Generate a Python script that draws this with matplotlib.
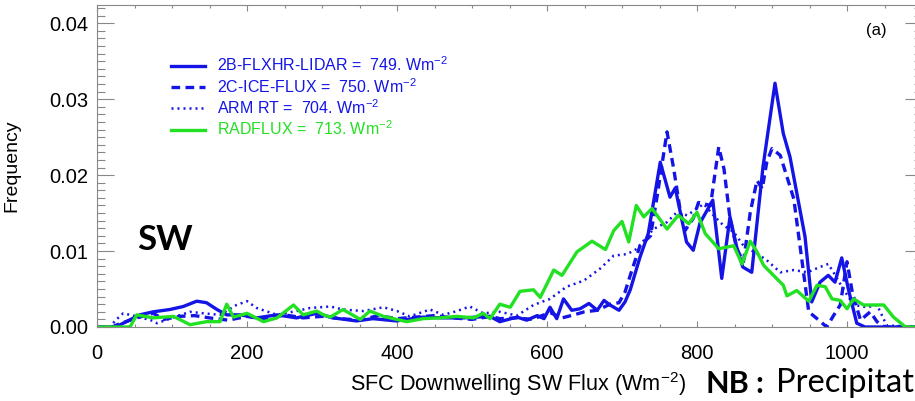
import numpy as np
import matplotlib.pyplot as plt
from matplotlib.ticker import MultipleLocator

plt.rcParams['font.family'] = ['Liberation Sans', 'DejaVu Sans']
plt.rcParams['mathtext.fontset'] = 'custom'
plt.rcParams['mathtext.rm'] = 'Liberation Sans'

# SW flux histograms (x = SFC downwelling SW flux, y = frequency)
lidar_x = [0, 25, 35, 57, 75, 97, 115, 133, 146, 160, 173, 191, 213, 240, 266, 293, 315, 346, 368, 399,
           435, 462, 488, 524, 537, 560, 573, 587, 596, 604, 613, 622, 633, 644, 656, 667, 676, 684, 696, 704,
           711, 724, 735, 751, 764, 771, 786, 795, 804, 821, 833, 844, 853, 861, 873, 888, 904, 915, 924, 944,
           953, 964, 975, 984, 993, 1002, 1013, 1024, 1100]
lidar_y = [0, 0, .0005, .0016, .0020, .0023, .0027, .0034, .0032, .0023, .0016, .0016, .0012, .0016, .0012,
           .0018, .0012, .0008, .0011, .0008, .0013, .0012, .0012, .0014, .0007, .0013, .0009, .0015, .0011,
           .0026, .0011, .0037, .0022, .0024, .0031, .0022, .0035, .0029, .0022, .0033, .0049, .0092, .0123,
           .0217, .0171, .0183, .0112, .0101, .0137, .0167, .0064, .0145, .0105, .0079, .0072, .0211, .0321,
           .0255, .0224, .0119, .0033, .0059, .0068, .0059, .0091, .0049, .0005, 0, 0]

ice_x = [0, 20, 27, 53, 75, 89, 110, 130, 150, 175, 200, 225, 250, 275, 300, 325, 350, 375, 400, 425,
         450, 475, 500, 525, 537, 560, 580, 604, 620, 636, 650, 667, 684, 696, 704, 711, 724, 738, 747, 760,
         769, 778, 784, 795, 802, 818, 829, 836, 844, 853, 862, 871, 880, 887, 893, 900, 911, 929, 949, 960,
         973, 982, 991, 1000, 1007, 1018, 1031, 1040, 1050, 1100]
ice_y = [0, 0, .0003, .0012, .0018, .0010, .0014, .0015, .0012, .0009, .0014, .0010, .0016, .0012, .0014,
         .0011, .0009, .0015, .0011, .0013, .0015, .0012, .0010, .0014, .0011, .0012, .0010, .0019, .0012,
         .0016, .0020, .0022, .0030, .0032, .0046, .0068, .0107, .0120, .0173, .0257, .0208, .0151, .0127,
         .0143, .0164, .0160, .0237, .0208, .0143, .0103, .0086, .0151, .0193, .0182, .0217, .0235, .0226,
         .0169, .0020, .0011, 0, .0015, .0029, .0086, .0046, .0009, .0020, .0007, 0, 0]

arm_x = [0, 17, 26, 35, 53, 75, 80, 106, 124, 142, 164, 186, 200, 213, 240, 266, 284, 311, 328, 355,
         382, 400, 417, 444, 462, 480, 497, 515, 537, 560, 582, 604, 626, 649, 671, 689, 707, 720, 729, 742,
         760, 773, 787, 800, 809, 822, 835, 849, 862, 884, 893, 911, 929, 947, 964, 975, 982, 995, 1009, 1027,
         1040, 1053, 1100]
arm_y = [0, 0, .0010, .0018, .0014, .0008, .0005, .0014, .0020, .0018, .0016, .0029, .0034, .0025, .0016,
         .0021, .0025, .0027, .0023, .0021, .0026, .0021, .0014, .0023, .0016, .0021, .0027, .0018, .0020,
         .0015, .0029, .0037, .0053, .0061, .0077, .0094, .0096, .0103, .0114, .0129, .0138, .0151, .0147,
         .0156, .0162, .0147, .0134, .0125, .0107, .0094, .0088, .0072, .0075, .0072, .0079, .0083, .0072,
         .0050, .0029, .0026, .0029, .0002, 0]

radflux_x = [0, 44, 53, 75, 102, 124, 146, 164, 173, 182, 200, 222, 240, 262, 275, 293, 302, 311, 328, 351,
             364, 382, 413, 435, 457, 480, 502, 515, 524, 537, 551, 564, 582, 591, 609, 620, 640, 660, 678, 689,
             700, 709, 719, 729, 740, 760, 775, 789, 800, 811, 829, 849, 860, 871, 880, 889, 902, 915, 920, 933,
             949, 960, 971, 980, 991, 1000, 1009, 1022, 1049, 1062, 1078, 1100]
radflux_y = [0, 0, .0016, .0012, .0014, .0003, .0007, .0007, .0030, .0013, .0018, .0007, .0012, .0029, .0016,
             .0021, .0016, .0013, .0023, .0010, .0021, .0014, .0007, .0011, .0012, .0014, .0012, .0018, .0011,
             .0030, .0026, .0047, .0049, .0039, .0075, .0068, .0099, .0113, .0102, .0127, .0139, .0112, .0160,
             .0145, .0156, .0129, .0147, .0136, .0151, .0123, .0103, .0107, .0083, .0113, .0099, .0081, .0068,
             .0055, .0041, .0048, .0034, .0055, .0053, .0037, .0035, .0024, .0037, .0029, .0029, .0013, 0, 0]

labels = ['2B-FLXHR-LIDAR =  749. Wm$^{-2}$',
          '2C-ICE-FLUX =  750. Wm$^{-2}$',
          'ARM RT =  704. Wm$^{-2}$',
          'RADFLUX =  713. Wm$^{-2}$']

blue = '#1414e6'
green = '#22e022'

fig = plt.figure(figsize=(9.15, 4.01), dpi=100)
ax = fig.add_axes([97 / 915, 74 / 401, 825 / 915, 322 / 401])

ax.plot(lidar_x, lidar_y, color=blue, lw=2.4, label=labels[0])
ax.plot(ice_x, ice_y, color=blue, lw=2.4, ls=(0, (2.6, 1.6)), label=labels[1])
ax.plot(arm_x, arm_y, color=blue, lw=1.8, ls=(0, (0.8, 1.6)), label=labels[2])
ax.plot(radflux_x, radflux_y, color=green, lw=2.4, label=labels[3])

ax.set_xlim(0, 1100)
ax.set_ylim(0, 0.0424)
ax.xaxis.set_major_locator(MultipleLocator(200))
ax.xaxis.set_minor_locator(MultipleLocator(50))
ax.yaxis.set_major_locator(MultipleLocator(0.01))
ax.yaxis.set_minor_locator(MultipleLocator(0.001))
ax.yaxis.set_major_formatter(plt.FormatStrFormatter('%.2f'))

ax.tick_params(axis='both', which='both', direction='in', top=True, right=True,
               color='#888888', width=0.8, labelsize=14.5)
ax.tick_params(axis='x', which='major', length=4.6, pad=12)
ax.tick_params(axis='x', which='minor', length=2.3)
ax.tick_params(axis='y', which='major', length=12, pad=6)
ax.tick_params(axis='y', which='minor', length=6)
for s in ax.spines.values():
    s.set_color('#888888')
    s.set_linewidth(0.8)

ax.set_xlabel('SFC Downwelling SW Flux (Wm$^{-2}$)', fontsize=15.6)
ax.set_ylabel('Frequency', fontsize=14)
ax.xaxis.set_label_coords(0.51, -0.135)
ax.xaxis.label.set_va('top')
ax.yaxis.set_label_coords(-0.093, 0.5)

leg = ax.legend(loc='upper left', bbox_to_anchor=(0.09, 0.843), frameon=False, fontsize=11.5,
                handlelength=2.1, handletextpad=0.75, labelspacing=0.17, labelcolor='linecolor',
                borderpad=0, borderaxespad=0)

ax.text(0.945, 0.922, '(a)', transform=ax.transAxes, fontsize=12, ha='center', va='center')

fig.text(137 / 915, 1 - 240 / 401, 'SW', fontsize=25, fontweight='bold', family='Lato',
         ha='left', va='center')
fig.text(705 / 915, 0.008, 'NB', fontsize=22, fontweight='bold', family='Lato',
         ha='left', va='bottom')
fig.text(755 / 915, 0.008, ':', fontsize=22, fontweight='bold', family='Lato',
         ha='left', va='bottom')
fig.text(914 / 915, 0.008, 'Precipitat', fontsize=23.5, family='Lato', ha='right', va='bottom')

fig.savefig('out.png', dpi=100)
